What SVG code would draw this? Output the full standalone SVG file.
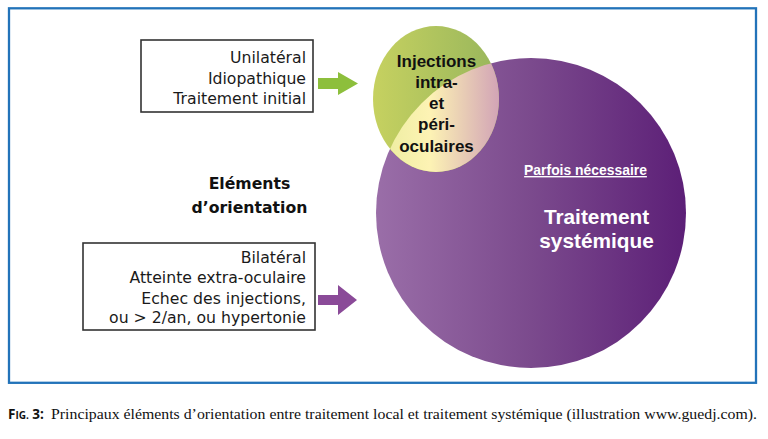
<svg xmlns="http://www.w3.org/2000/svg" width="768" height="439" viewBox="0 0 768 439">
<defs>
<style>
.box{fill:#ffffff;stroke:#333333;stroke-width:1.6}
.bt{font-family:"DejaVu Sans","Open Sans",sans-serif;font-size:15.7px;fill:#1a1a1a;text-anchor:end}
.bold{font-family:"Liberation Sans",Arial,sans-serif;font-weight:bold;text-anchor:middle}
</style>
<linearGradient id="gPurple" x1="0" y1="0" x2="1" y2="0">
<stop offset="0" stop-color="#9a6ea8"/>
<stop offset="0.5" stop-color="#7b4a8d"/>
<stop offset="1" stop-color="#5c1f77"/>
</linearGradient>
<linearGradient id="gGreen" x1="0" y1="0" x2="1" y2="0">
<stop offset="0" stop-color="#c6d160"/>
<stop offset="1" stop-color="#98b65c"/>
</linearGradient>
<linearGradient id="gOver" x1="0" y1="0" x2="1" y2="0">
<stop offset="0" stop-color="#e9ec9c"/>
<stop offset="0.45" stop-color="#fdf3b4"/>
<stop offset="1" stop-color="#d2a4b6"/>
</linearGradient>
<clipPath id="clipCircle">
<circle cx="531" cy="213" r="155"/>
</clipPath>
</defs>
<rect width="768" height="439" fill="#ffffff"/>
<rect id="frame" x="9" y="8.3" width="747" height="374.5" fill="none" stroke="#2273b9" stroke-width="2.3"/>

<g id="systemic">
<circle cx="531" cy="213" r="155" fill="url(#gPurple)"/>
<text x="585.5" y="175" class="bold" font-size="13.9" fill="#ffffff" text-decoration="underline">Parfois nécessaire</text>
<text class="bold" font-size="20.8" fill="#ffffff"><tspan x="596.5" y="224">Traitement</tspan><tspan x="596.5" y="248">systémique</tspan></text>
</g>

<g id="injections">
<ellipse cx="436" cy="99" rx="63" ry="73" fill="url(#gGreen)"/>
<ellipse cx="436" cy="99" rx="63" ry="73" fill="url(#gOver)" clip-path="url(#clipCircle)"/>
<text class="bold" font-size="17" fill="#111111"><tspan x="436.5" y="67">Injections</tspan><tspan x="436.5" y="87.5">intra-</tspan><tspan x="436.5" y="108.5">et</tspan><tspan x="436.5" y="130">péri-</tspan><tspan x="436.5" y="151.5">oculaires</tspan></text>
</g>

<g id="elements">
<text font-family="DejaVu Sans, Open Sans, sans-serif" font-weight="bold" font-size="15.7" text-anchor="middle" fill="#111111"><tspan x="249.5" y="189">Eléments</tspan><tspan x="249.5" y="213">d’orientation</tspan></text>
</g>

<g id="box-local">
<rect class="box" x="141" y="40" width="172" height="72"/>
<text class="bt"><tspan x="306" y="63.3">Unilatéral</tspan><tspan x="306" y="83.5">Idiopathique</tspan><tspan x="306" y="104">Traitement initial</tspan></text>
</g>

<g id="box-systemic">
<rect class="box" x="83" y="243" width="232" height="87"/>
<text class="bt"><tspan x="306" y="263">Bilatéral</tspan><tspan x="306" y="283.3">Atteinte extra-oculaire</tspan><tspan x="306" y="303.6">Echec des injections,</tspan><tspan x="306" y="323">ou &gt; 2/an, ou hypertonie</tspan></text>
</g>

<g id="connectors">
<polygon points="318,78 338,78 338,72 358,83.5 338,95 338,89 318,89" fill="#8dbf3c"/>
<polygon points="318,295 338,295 338,285 357,300 338,315 338,305 318,305" fill="#8a4a98"/>
</g>

<g id="caption">
<text x="8" y="419" font-family="Open Sans, Noto Sans, sans-serif" font-weight="bold" fill="#111111"><tspan font-size="13.5">F</tspan><tspan font-size="10">IG.</tspan><tspan font-size="13.5"> 3:</tspan></text>
<text x="51" y="419" font-family="Liberation Serif, serif" font-size="14.5" fill="#111111" textLength="706" lengthAdjust="spacingAndGlyphs">Principaux éléments d’orientation entre traitement local et traitement systémique (illustration www.guedj.com).</text>
</g>
</svg>
